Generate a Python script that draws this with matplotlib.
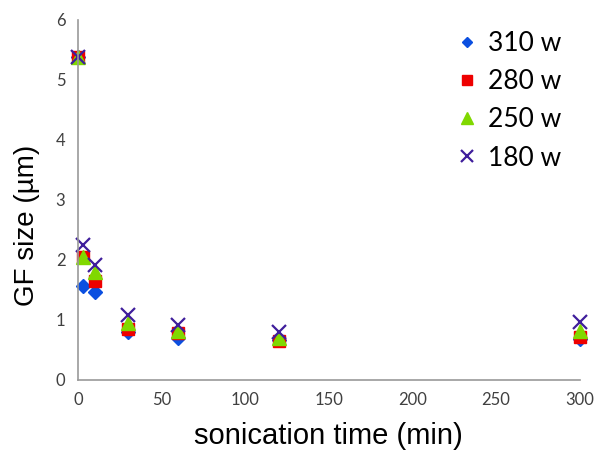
import matplotlib
matplotlib.use("Agg")
import matplotlib.pyplot as plt

# sonication time (min)
time = [0, 3, 10, 30, 60, 120, 300]

# GF size (um) per power
w310 = [5.38, 1.57, 1.47, 0.80, 0.70, 0.67, 0.68]
w280 = [5.38, 2.05, 1.65, 0.85, 0.78, 0.64, 0.72]
w250 = [5.38, 2.05, 1.80, 0.95, 0.82, 0.70, 0.82]
w180 = [5.38, 2.25, 1.92, 1.08, 0.92, 0.80, 0.97]

labels = ["310 w", "280 w", "250 w", "180 w"]

fig = plt.figure(figsize=(5.94, 4.5), dpi=100)
ax = fig.add_axes([0.131, 0.156, 0.845, 0.80])

ax.plot(time, w310, ls='none', marker='D', ms=7, c='#0B4FE0', label=labels[0])
ax.plot(time, w280, ls='none', marker='s', ms=9, c='#EE0000', label=labels[1])
ax.plot(time, w250, ls='none', marker='^', ms=10, c='#80D800', label=labels[2])
ax.plot(time, w180, ls='none', marker='x', ms=10, mew=1.6, c='#3F1E9C', label=labels[3])

ax.set_xlim(0, 300)
ax.set_ylim(0, 6)
ax.set_xticks([0, 50, 100, 150, 200, 250, 300])
ax.set_yticks([0, 1, 2, 3, 4, 5, 6])
ax.tick_params(length=0, labelsize=12, labelcolor='#404040', pad=9)
for t in ax.get_xticklabels() + ax.get_yticklabels():
    t.set_family('Lato')

for s in ['top', 'right']:
    ax.spines[s].set_visible(False)
for s in ['left', 'bottom']:
    ax.spines[s].set_color('#999999')
    ax.spines[s].set_linewidth(1.2)
for l in ax.lines:
    l.set_clip_on(False)

ax.set_xlabel("sonication time (min)", fontsize=21, family='Liberation Sans', labelpad=10)
ax.set_ylabel("GF size (\u00b5m)", fontsize=20, family='Liberation Sans', labelpad=10)
ax.yaxis.set_label_coords(-0.075, 0.43)

leg = ax.legend(loc='upper right', frameon=False, prop={'family': 'Lato', 'size': 19},
                handletextpad=0.3, labelspacing=0.5, handlelength=1.0,
                markerscale=0.8, bbox_to_anchor=(1.01, 1.035))

fig.savefig("out.png", dpi=100)
